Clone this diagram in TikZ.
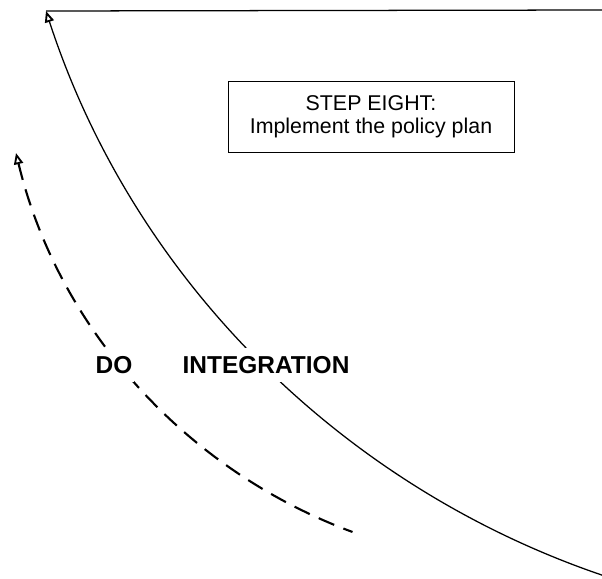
\documentclass[tikz,border=0pt]{standalone}
\usepackage{fontspec}
\setmainfont{Liberation Sans}
\usetikzlibrary{arrows.meta}

\begin{document}
\begin{tikzpicture}[x=0.025cm, y=-0.025cm,
    curveline/.style={line width=0.9pt},
    dashline/.style={line width=1.5pt, dash pattern=on 12pt off 7pt},
    opentip/.style={{Triangle[open, length=8pt, width=6.5pt, line width=1.3pt]}-},
    bigword/.style={font=\fontsize{17.4}{20}\selectfont\bfseries, anchor=west, fill=white, inner xsep=1pt, inner ysep=6pt}]
  \useasboundingbox (0,0) rectangle (602,578);

  %% Integration arc and top line
  \coordinate (top) at (46,11);
  \coordinate (topright) at (602,10);
  \draw[curveline] (top) -- (topright);
  \draw[curveline, opentip] (top) arc[start angle=162, end angle=108.8, radius=885];

  %% Dashed "do" arc
  \coordinate (dtop) at (16,153);
  \draw[dashline, opentip] (dtop) arc[start angle=166.5, end angle=110.3, radius=538];

  %% Step box
  \node[draw, fill=white, line width=0.6pt, minimum width=286*0.025cm, minimum height=71*0.025cm,
    align=center, font=\fontsize{15.2}{16.5}\selectfont] (stepeight) at (371,117)
    {STEP EIGHT:\\Implement the policy plan};

  %% Labels
  \node[bigword] (do) at (94,365) {DO};
  \node[bigword] (integration) at (181,365) {INTEGRATION};
\end{tikzpicture}
\end{document}
